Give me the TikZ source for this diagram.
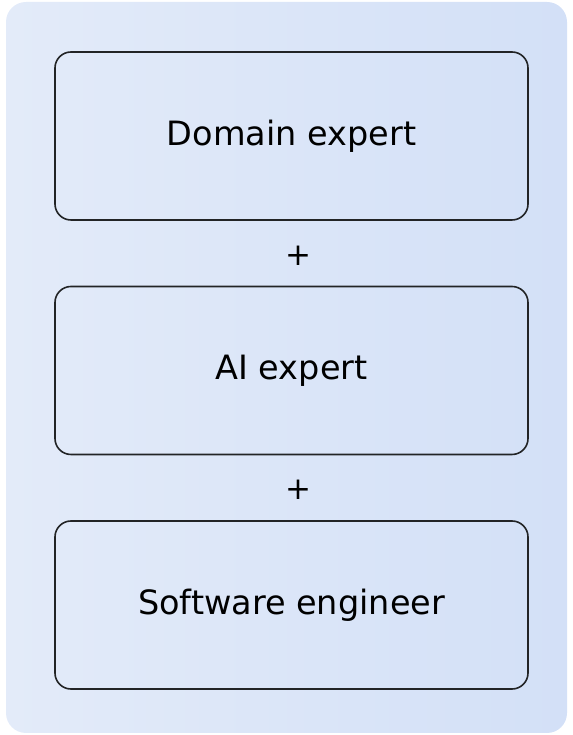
\documentclass[tikz,border=0pt]{standalone}
\usepackage{fontspec}
\setmainfont{DejaVu Sans}
\definecolor{bgA}{HTML}{E3EBF9}
\definecolor{bgB}{HTML}{D3E0F7}
\definecolor{edge}{HTML}{222426}
\begin{document}
\begin{tikzpicture}[x=1pt,y=1pt,
  card/.style={draw=edge,line width=1.6pt,rounded corners=16pt,minimum width=473pt,minimum height=168pt,font=\fontsize{33.5}{40}\selectfont,text=black},
  plus/.style={font=\fontsize{31}{36}\selectfont,text=black}]
\useasboundingbox (0,0) rectangle (572,735);
\shade[rounded corners=20pt,shading angle=60,left color=bgA,right color=bgB] (6,2) rectangle (567,733);
\node[card] (dom) at (291.5,599) {Domain expert};
\node[card] (ai) at (291.5,364.5) {AI expert};
\node[card] (sw) at (291.5,130) {Software engineer};
\node[plus] (p1) at (298,479) {+};
\node[plus] (p2) at (298,245) {+};
\end{tikzpicture}
\end{document}
